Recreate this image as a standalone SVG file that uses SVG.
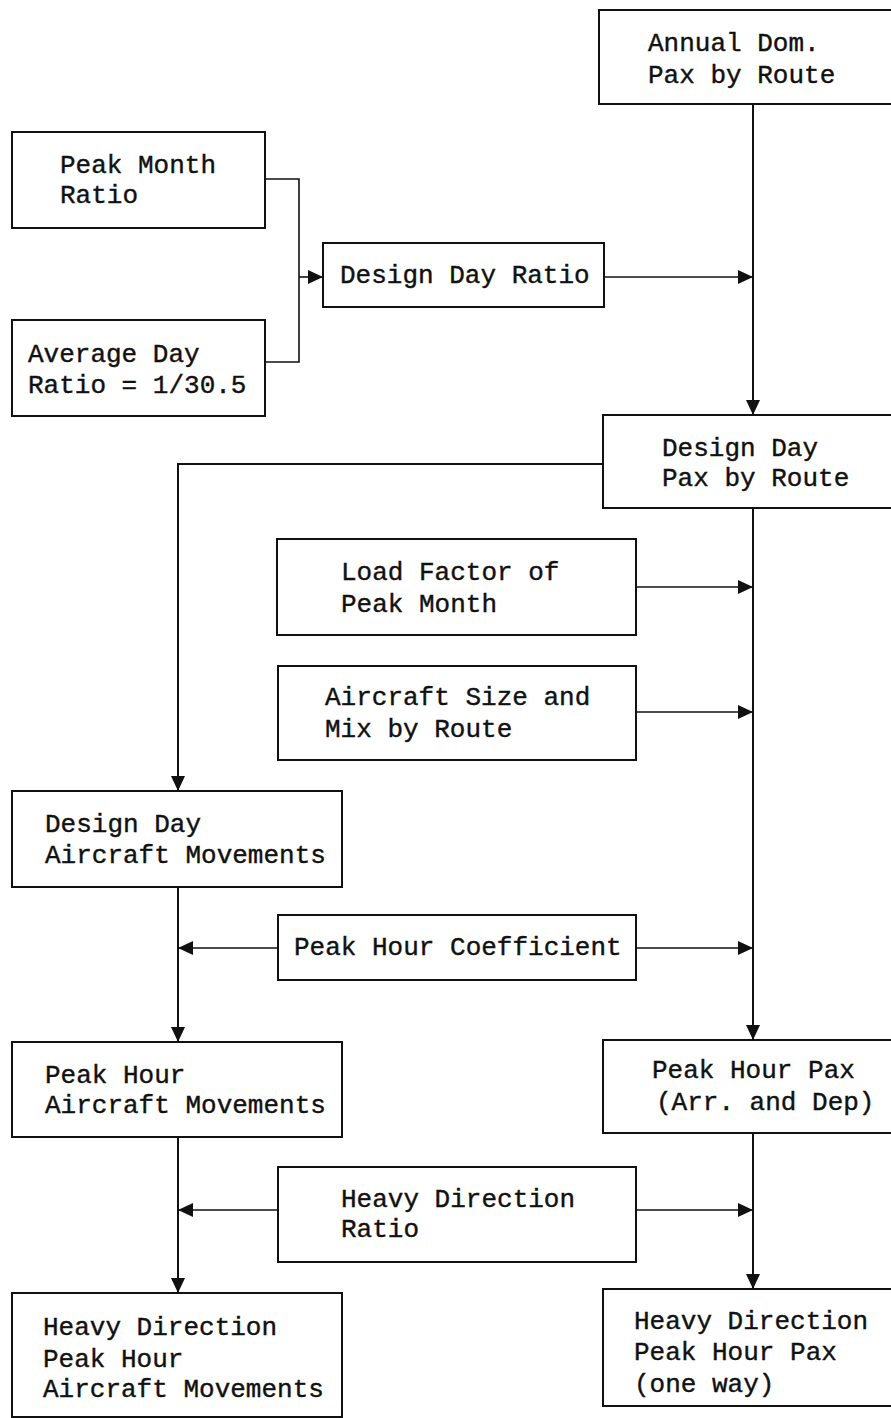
<svg xmlns="http://www.w3.org/2000/svg" width="891" height="1418" viewBox="0 0 891 1418">
<style>
.box{fill:#fff;stroke:#111;stroke-width:2}
.t{font-family:"Liberation Mono","Courier New",monospace;font-size:26px;fill:#111;stroke:#111;stroke-width:0.4}
.c{fill:none;stroke:#111;stroke-width:2}
.h{fill:none;stroke:#111;stroke-width:1.6}
</style>
<defs>
<marker id="ah" markerUnits="userSpaceOnUse" markerWidth="16" markerHeight="14" refX="15" refY="7" orient="auto">
<path d="M0,0 L15,7 L0,14 Z" fill="#111"/>
</marker>
</defs>
<rect width="891" height="1418" fill="#fff"/>
<g id="connectors">
<line class="c" x1="753" y1="104" x2="753" y2="415" marker-end="url(#ah)"/>
<polyline class="h" points="265,179 299,179 299,362 265,362"/>
<line class="h" x1="299" y1="277" x2="323" y2="277" marker-end="url(#ah)"/>
<line class="h" x1="604" y1="277" x2="753" y2="277" marker-end="url(#ah)"/>
<polyline class="c" points="603,464 178,464 178,791" marker-end="url(#ah)"/>
<line class="c" x1="753" y1="508" x2="753" y2="1040" marker-end="url(#ah)"/>
<line class="h" x1="636" y1="587" x2="753" y2="587" marker-end="url(#ah)"/>
<line class="h" x1="636" y1="712" x2="753" y2="712" marker-end="url(#ah)"/>
<line class="c" x1="178" y1="887" x2="178" y2="1042" marker-end="url(#ah)"/>
<line class="h" x1="278" y1="948" x2="178" y2="948" marker-end="url(#ah)"/>
<line class="h" x1="636" y1="948" x2="753" y2="948" marker-end="url(#ah)"/>
<line class="c" x1="178" y1="1137" x2="178" y2="1293" marker-end="url(#ah)"/>
<line class="c" x1="753" y1="1133" x2="753" y2="1289" marker-end="url(#ah)"/>
<line class="h" x1="278" y1="1210" x2="178" y2="1210" marker-end="url(#ah)"/>
<line class="h" x1="636" y1="1210" x2="753" y2="1210" marker-end="url(#ah)"/>
</g>
<g id="annual">
<rect class="box" x="599" y="10" width="300" height="94"/>
<text class="t" x="648" y="51">Annual Dom.</text>
<text class="t" x="648" y="83">Pax by Route</text>
</g>
<g id="peakMonth">
<rect class="box" x="12" y="132" width="253" height="96"/>
<text class="t" x="60" y="173">Peak Month</text>
<text class="t" x="60" y="203">Ratio</text>
</g>
<g id="avgDay">
<rect class="box" x="12" y="320" width="253" height="96"/>
<text class="t" x="28" y="362">Average Day</text>
<text class="t" x="28" y="393">Ratio = 1/30.5</text>
</g>
<g id="designDayRatio">
<rect class="box" x="323" y="243" width="281" height="64"/>
<text class="t" x="340" y="283">Design Day Ratio</text>
</g>
<g id="designDayPax">
<rect class="box" x="603" y="415" width="300" height="93"/>
<text class="t" x="662" y="456">Design Day</text>
<text class="t" x="662" y="486">Pax by Route</text>
</g>
<g id="loadFactor">
<rect class="box" x="277" y="539" width="359" height="96"/>
<text class="t" x="341" y="580">Load Factor of</text>
<text class="t" x="341" y="612">Peak Month</text>
</g>
<g id="aircraftSize">
<rect class="box" x="278" y="666" width="358" height="94"/>
<text class="t" x="325" y="705">Aircraft Size and</text>
<text class="t" x="325" y="737">Mix by Route</text>
</g>
<g id="ddAircraft">
<rect class="box" x="12" y="791" width="330" height="96"/>
<text class="t" x="45" y="832">Design Day</text>
<text class="t" x="45" y="863">Aircraft Movements</text>
</g>
<g id="peakHourCoef">
<rect class="box" x="278" y="915" width="358" height="65"/>
<text class="t" x="294" y="955">Peak Hour Coefficient</text>
</g>
<g id="phAircraft">
<rect class="box" x="12" y="1042" width="330" height="95"/>
<text class="t" x="45" y="1083">Peak Hour</text>
<text class="t" x="45" y="1113">Aircraft Movements</text>
</g>
<g id="phPax">
<rect class="box" x="603" y="1040" width="300" height="93"/>
<text class="t" x="652" y="1078">Peak Hour Pax</text>
<text class="t" x="656" y="1110">(Arr. and Dep)</text>
</g>
<g id="hdRatio">
<rect class="box" x="278" y="1167" width="358" height="95"/>
<text class="t" x="341" y="1207">Heavy Direction</text>
<text class="t" x="341" y="1237">Ratio</text>
</g>
<g id="hdAircraft">
<rect class="box" x="12" y="1293" width="330" height="124"/>
<text class="t" x="43" y="1335">Heavy Direction</text>
<text class="t" x="43" y="1367">Peak Hour</text>
<text class="t" x="43" y="1397">Aircraft Movements</text>
</g>
<g id="hdPax">
<rect class="box" x="603" y="1289" width="300" height="117"/>
<text class="t" x="634" y="1329">Heavy Direction</text>
<text class="t" x="634" y="1360">Peak Hour Pax</text>
<text class="t" x="634" y="1392">(one way)</text>
</g>
</svg>
